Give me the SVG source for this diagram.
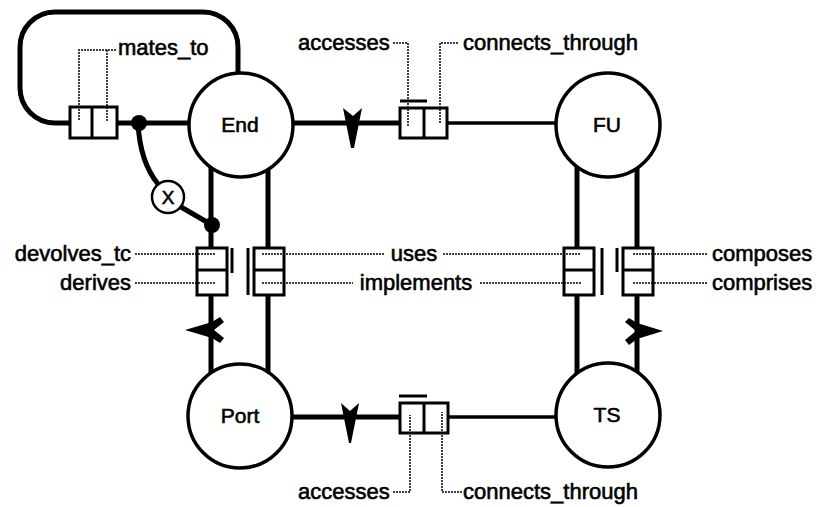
<svg xmlns="http://www.w3.org/2000/svg" width="821" height="507" viewBox="0 0 821 507">
<defs>
<style>
.node{fill:#fff;stroke:#000;stroke-width:3.5}
.nlabel{font-family:"Liberation Sans",Arial,sans-serif;font-size:21px;fill:#000;stroke:#000;stroke-width:0.6;text-anchor:middle}
.lbl{font-family:"Liberation Sans",Arial,sans-serif;font-size:22px;fill:#000;stroke:#000;stroke-width:0.6}
.thick{fill:none;stroke:#000;stroke-width:5}
.mid{fill:none;stroke:#000;stroke-width:3.5}
.box{fill:#fff;stroke:#000;stroke-width:3}
.bar{stroke:#000;stroke-width:3;fill:none}
.lead{fill:none;stroke:#000;stroke-width:1.5;stroke-dasharray:2 1}
.dot{fill:#000}
.arr{fill:#000}
</style>
</defs>
<rect width="821" height="507" fill="#fff"/>
<g id="connectors">
<path class="thick" d="M70,123 H55 A35,35 0 0 1 20,88 V48 A35,35 0 0 1 55,12 H203 A35,35 0 0 1 238,48 V80"/>
<line class="thick" x1="117" y1="123" x2="200" y2="123"/>
<line class="thick" x1="280" y1="123" x2="400" y2="123"/>
<line class="mid" x1="447" y1="123" x2="570" y2="123"/>
<line class="thick" x1="280" y1="417" x2="400" y2="417"/>
<line class="mid" x1="448" y1="417" x2="570" y2="417"/>
<line class="thick" x1="211" y1="150" x2="211" y2="390"/>
<line class="thick" x1="268" y1="150" x2="268" y2="390"/>
<line class="thick" x1="577" y1="150" x2="577" y2="390"/>
<line class="thick" x1="637" y1="150" x2="637" y2="390"/>
<path class="thick" d="M138,123 Q140,162 158,184"/>
<line class="thick" x1="181" y1="207" x2="212" y2="225"/>
<circle class="dot" cx="139" cy="123" r="8"/>
<circle class="dot" cx="212" cy="225" r="8"/>
<circle cx="168" cy="197" r="16" fill="#fff" stroke="#000" stroke-width="2.5"/>
<text class="nlabel" x="168" y="204" style="font-size:19px">X</text>
<polygon class="arr" points="343,108 353,116 362,108 354,148 351,148"/>
<polygon class="arr" points="341,403 350,411 359,403 351,443 349,443"/>
<polygon class="arr" points="185,330 212,322 220,317 224,322 214,330 224,338 220,343 212,338"/>
<polygon class="arr" points="663,331 637,323 629,318 625,322 636,331 625,340 629,345 637,339"/>
<rect class="box" x="70" y="107" width="47" height="31"/>
<line class="bar" x1="92" y1="107" x2="92" y2="138"/>
<rect class="box" x="400" y="108" width="47" height="30"/>
<line class="bar" x1="424" y1="108" x2="424" y2="138"/>
<line class="bar" x1="400" y1="101" x2="427" y2="101"/>
<rect class="box" x="400" y="403" width="48" height="30"/>
<line class="bar" x1="424" y1="403" x2="424" y2="433"/>
<line class="bar" x1="399" y1="396" x2="427" y2="396"/>
<rect class="box" x="197" y="248" width="30" height="47"/>
<line class="bar" x1="197" y1="270" x2="227" y2="270"/>
<line class="bar" x1="232" y1="248" x2="232" y2="273"/>
<line class="bar" x1="248" y1="248" x2="248" y2="295"/>
<rect class="box" x="254" y="248" width="30" height="47"/>
<line class="bar" x1="254" y1="270" x2="284" y2="270"/>
<rect class="box" x="564" y="248" width="30" height="47"/>
<line class="bar" x1="564" y1="270" x2="594" y2="270"/>
<line class="bar" x1="602" y1="248" x2="602" y2="295"/>
<line class="bar" x1="617" y1="248" x2="617" y2="272"/>
<rect class="box" x="623" y="248" width="30" height="47"/>
<line class="bar" x1="623" y1="270" x2="653" y2="270"/>
<path class="lead" d="M116,50 H79 V121 M107,50 V121"/>
<path class="lead" d="M393,43 H408 V127 M458,43 H440 V124"/>
<path class="lead" d="M393,492 H410 V415 M462,492 H442 V412"/>
<path class="lead" d="M135,254 H216 M135,283 H216"/>
<path class="lead" d="M262,254 H385 M443,254 H581 M262,283 H353 M480,283 H581"/>
<path class="lead" d="M633,254 H708 M633,283 H708"/>
</g>
<g id="End"><circle class="node" cx="241" cy="125" r="52"/><text class="nlabel" x="240" y="132">End</text></g>
<g id="FU"><circle class="node" cx="608" cy="125" r="52"/><text class="nlabel" x="607" y="132">FU</text></g>
<g id="Port"><circle class="node" cx="240" cy="416" r="52"/><text class="nlabel" x="240" y="423">Port</text></g>
<g id="TS"><circle class="node" cx="608" cy="415" r="52"/><text class="nlabel" x="607" y="422">TS</text></g>
<g id="labels">
<text class="lbl" x="118" y="55">mates_to</text>
<text class="lbl" x="298" y="50">accesses</text>
<text class="lbl" x="463" y="50">connects_through</text>
<text class="lbl" x="298" y="499">accesses</text>
<text class="lbl" x="463" y="499">connects_through</text>
<text class="lbl" x="131" y="261" text-anchor="end">devolves_tc</text>
<text class="lbl" x="131" y="290" text-anchor="end">derives</text>
<text class="lbl" x="414" y="261" text-anchor="middle">uses</text>
<text class="lbl" x="416" y="290" text-anchor="middle">implements</text>
<text class="lbl" x="712" y="261">composes</text>
<text class="lbl" x="712" y="290">comprises</text>
</g>
</svg>
